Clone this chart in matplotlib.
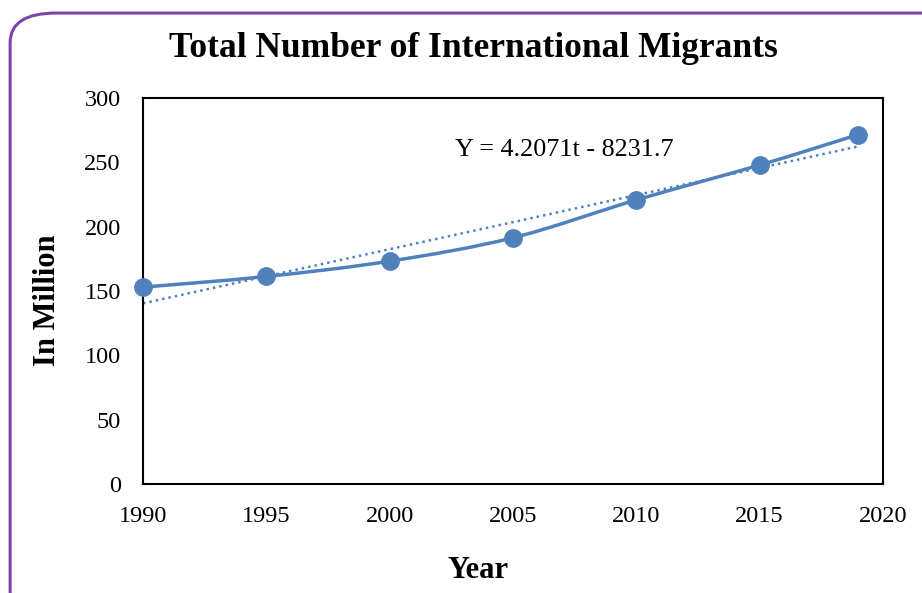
import matplotlib.pyplot as plt
from matplotlib.path import Path
from matplotlib.patches import PathPatch, FancyBboxPatch

years = [1990, 1995, 2000, 2005, 2010, 2015, 2019]
migrants = [153.0, 161.3, 173.2, 191.4, 220.8, 247.9, 271.6]
slope, intercept = 4.2071, -8231.7
x_ticks = [1990, 1995, 2000, 2005, 2010, 2015, 2020]
y_ticks = [0, 50, 100, 150, 200, 250, 300]

blue = '#4F81BD'
plt.rcParams['font.family'] = ['Liberation Serif', 'DejaVu Serif']


def smooth_path(xs, ys):
    # bezier segments through the points, like a spreadsheet "smoothed line"
    pts = list(zip(xs, ys))
    n = len(pts)
    verts = [pts[0]]
    codes = [Path.MOVETO]
    for i in range(n - 1):
        p0 = pts[max(i - 1, 0)]
        p1 = pts[i]
        p2 = pts[i + 1]
        p3 = pts[min(i + 2, n - 1)]
        c1 = (p1[0] + (p2[0] - p0[0]) / 6, p1[1] + (p2[1] - p0[1]) / 6)
        c2 = (p2[0] - (p3[0] - p1[0]) / 6, p2[1] - (p3[1] - p1[1]) / 6)
        verts += [c1, c2, p2]
        codes += [Path.CURVE4] * 3
    return Path(verts, codes)


fig = plt.figure(figsize=(9.22, 5.93), dpi=100)

border = FancyBboxPatch((0.011, -0.05), 1.1, 1.03 - 0.002,
                        boxstyle='round,pad=0,rounding_size=0.05',
                        transform=fig.transFigure, facecolor='none',
                        edgecolor='#7B45B0', linewidth=2.2, zorder=-1)
fig.patches.append(border)

ax = fig.add_axes([0.1551, 0.1838, 0.8026, 0.6509])
ax.set_facecolor('white')

trend_x = [years[0], years[-1]]
trend_y = [slope * t + intercept for t in trend_x]
ax.plot(trend_x, trend_y, linestyle=(0, (1, 1.6)), color=blue, linewidth=1.8)

ax.add_patch(PathPatch(smooth_path(years, migrants), facecolor='none',
                       edgecolor=blue, linewidth=2.5, clip_on=False))
ax.plot(years, migrants, linestyle='none', marker='o', markersize=12.5,
        color=blue, clip_on=False, zorder=5)

ax.text(0.4216, 0.866, 'Y = 4.2071t - 8231.7', transform=ax.transAxes,
        fontsize=18.8, va='center', ha='left')

ax.set_xlim(1990, 2020)
ax.set_ylim(0, 300)
ax.set_xticks(x_ticks)
ax.set_yticks(y_ticks)
ax.tick_params(length=0, labelsize=17.5)
ax.tick_params(axis='y', pad=16)
ax.tick_params(axis='x', pad=16)
for s in ax.spines.values():
    s.set_linewidth(1.5)
    s.set_color('black')

fig.text(0.513, 0.919, 'Total Number of International Migrants',
         ha='center', va='center', fontsize=25.5, fontweight='bold')
fig.text(0.052, 0.494, 'In Million', rotation=90, ha='center', va='center',
         fontsize=22, fontweight='bold')
fig.text(0.518, 0.038, 'Year', ha='center', va='center',
         fontsize=22, fontweight='bold')

fig.savefig('out.png', dpi=100)
